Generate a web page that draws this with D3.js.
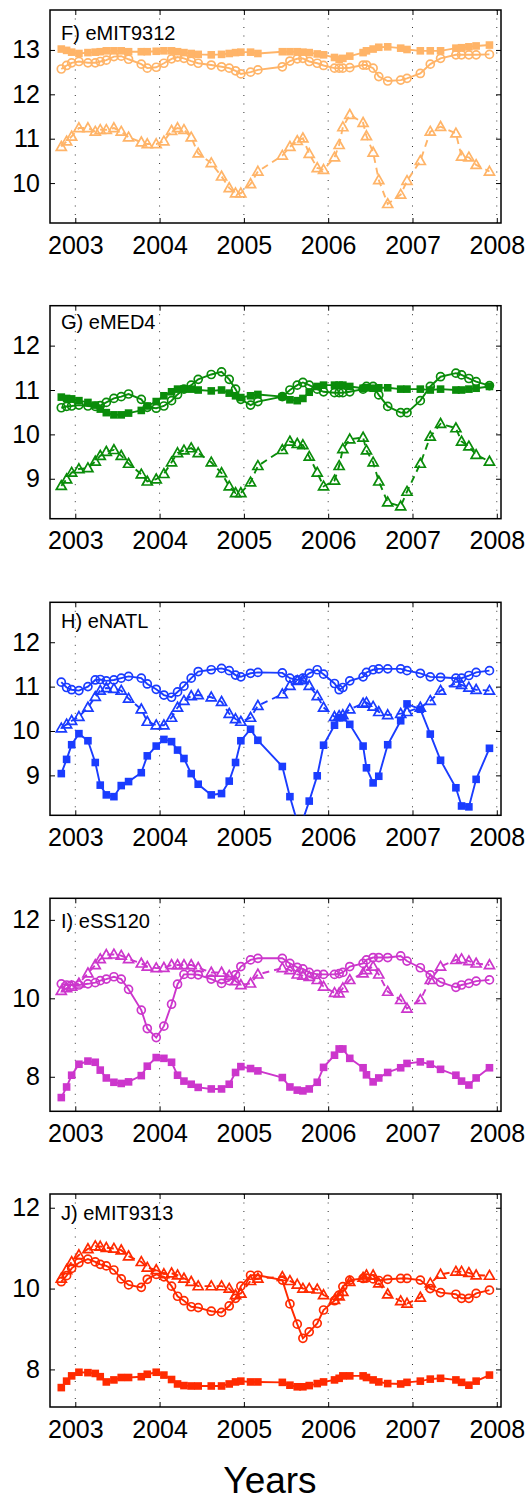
<!DOCTYPE html>
<html>
<head>
<meta charset="utf-8">
<script src="https://cdn.jsdelivr.net/npm/d3@7"></script>
<style>
  body { margin: 0; background: #fff; }
  svg { display: block; font-family: "Liberation Sans", Arial, Helvetica, sans-serif; }
</style>
</head>
<body>
<div class="chart"></div>
<script>
// sampling dates (decimal years), shared by every panel
const dates = [2002.834, 2002.897, 2002.957, 2003.043, 2003.150, 2003.237, 2003.296, 2003.368, 2003.458, 2003.545,
  2003.632, 2003.783, 2003.854, 2003.960, 2004.051, 2004.142, 2004.213, 2004.289, 2004.375, 2004.458,
  2004.613, 2004.735, 2004.826, 2004.901, 2004.964, 2005.079, 2005.166, 2005.456, 2005.546, 2005.633,
  2005.700, 2005.775, 2005.870, 2005.945, 2006.075, 2006.130, 2006.174, 2006.256, 2006.414, 2006.454,
  2006.533, 2006.600, 2006.706, 2006.860, 2006.935, 2007.093, 2007.211, 2007.333, 2007.515, 2007.582,
  2007.669, 2007.755, 2007.913];

const yearTicks = [2003, 2004, 2005, 2006, 2007, 2008];

// F) eMIT9312
const fSquares = [13.02, 12.99, 12.95, 12.92, 12.94, 12.95, 12.96, 12.98, 12.98, 12.98, 12.96, 12.96, 12.96, 12.97, 12.98, 12.98, 12.96, 12.94, 12.92, 12.90,
  12.89, 12.90, 12.92, 12.94, 12.95, 12.95, 12.92, 12.96, 12.96, 12.96, 12.95, 12.94, 12.91, 12.89, 12.83, 12.79, 12.81, 12.86, 12.94, 12.98,
  13.02, 13.06, 13.07, 13.04, 13.01, 12.98, 12.98, 12.98, 13.04, 13.05, 13.07, 13.09, 13.11];
const fCircles = [12.57, 12.65, 12.71, 12.74, 12.71, 12.71, 12.74, 12.77, 12.85, 12.86, 12.79, 12.68, 12.59, 12.61, 12.70, 12.80, 12.84, 12.81, 12.75, 12.70,
  12.66, 12.62, 12.59, 12.53, 12.46, 12.50, 12.55, 12.62, 12.75, 12.80, 12.81, 12.74, 12.70, 12.65, 12.59, 12.59, 12.59, 12.60, 12.66, 12.66,
  12.59, 12.40, 12.30, 12.32, 12.36, 12.47, 12.68, 12.81, 12.89, 12.89, 12.89, 12.89, 12.90];
const fTriangles = [10.82, 10.94, 11.05, 11.24, 11.24, 11.16, 11.20, 11.20, 11.24, 11.16, 11.03, 10.92, 10.88, 10.88, 10.94, 11.18, 11.24, 11.20, 11.03, 10.67,
  10.45, 10.15, 9.89, 9.77, 9.77, 9.98, 10.26, 10.62, 10.82, 10.95, 11.01, 10.66, 10.34, 10.30, 10.58, 10.86, 11.26, 11.54, 11.36, 11.06,
  10.69, 10.07, 9.53, 9.74, 10.05, 10.50, 11.16, 11.27, 11.12, 10.60, 10.58, 10.41, 10.26];

// G) eMED4
const gSquares = [10.84, 10.81, 10.80, 10.76, 10.72, 10.66, 10.57, 10.49, 10.44, 10.44, 10.48, 10.54, 10.64, 10.74, 10.87, 10.96, 11.02, 11.02, 11.02, 11.00,
  10.98, 11.00, 10.93, 10.87, 10.83, 10.87, 10.90, 10.85, 10.78, 10.76, 10.81, 10.95, 11.08, 11.11, 11.11, 11.11, 11.11, 11.08, 11.04, 11.05,
  11.04, 11.05, 11.05, 11.02, 11.02, 11.02, 11.00, 11.02, 11.00, 11.00, 11.02, 11.04, 11.08];
const gCircles = [10.60, 10.63, 10.64, 10.66, 10.64, 10.63, 10.65, 10.72, 10.81, 10.85, 10.91, 10.79, 10.61, 10.59, 10.64, 10.76, 10.90, 11.02, 11.11, 11.24,
  11.35, 11.41, 11.24, 11.02, 10.79, 10.66, 10.74, 10.85, 11.00, 11.11, 11.17, 11.11, 11.02, 10.96, 10.94, 10.94, 10.94, 10.96, 11.02, 11.08,
  11.08, 10.89, 10.63, 10.49, 10.49, 10.76, 11.08, 11.30, 11.38, 11.34, 11.26, 11.19, 11.10];
const gTriangles = [8.84, 8.99, 9.14, 9.22, 9.24, 9.39, 9.52, 9.61, 9.65, 9.52, 9.34, 9.10, 8.94, 8.99, 9.11, 9.37, 9.58, 9.64, 9.69, 9.58,
  9.37, 9.13, 8.83, 8.68, 8.68, 8.92, 9.29, 9.65, 9.84, 9.79, 9.76, 9.50, 9.14, 8.83, 8.96, 9.29, 9.67, 9.89, 9.93, 9.64,
  9.37, 8.94, 8.47, 8.38, 8.71, 9.34, 9.95, 10.24, 10.14, 9.84, 9.73, 9.54, 9.39];

// H) eNATL
const hSquares = [9.04, 9.36, 9.69, 9.94, 9.78, 9.29, 8.78, 8.56, 8.52, 8.77, 8.86, 9.06, 9.44, 9.66, 9.81, 9.76, 9.57, 9.38, 9.04, 8.80,
  8.56, 8.59, 8.87, 9.29, 9.78, 10.04, 9.79, 9.20, 8.52, 7.95, 8.00, 8.42, 8.99, 9.68, 10.13, 10.30, 10.30, 10.15, 9.66, 9.17,
  8.83, 8.98, 9.69, 10.23, 10.61, 10.49, 9.93, 9.34, 8.72, 8.31, 8.29, 8.91, 9.61];
const hCircles = [11.10, 10.98, 10.93, 10.91, 11.00, 11.15, 11.16, 11.13, 11.15, 11.19, 11.23, 11.19, 11.06, 10.94, 10.81, 10.76, 10.88, 11.01, 11.19, 11.34,
  11.38, 11.41, 11.36, 11.26, 11.22, 11.30, 11.32, 11.31, 11.19, 11.15, 11.19, 11.30, 11.38, 11.28, 11.07, 10.93, 10.98, 11.13, 11.22, 11.32,
  11.38, 11.40, 11.40, 11.40, 11.36, 11.30, 11.22, 11.21, 11.19, 11.19, 11.25, 11.32, 11.36];
const hTriangles = [10.06, 10.15, 10.23, 10.32, 10.53, 10.77, 10.91, 10.97, 10.95, 10.91, 10.73, 10.49, 10.21, 10.13, 10.13, 10.30, 10.53, 10.68, 10.79, 10.81,
  10.76, 10.66, 10.39, 10.27, 10.21, 10.30, 10.57, 10.83, 11.02, 11.13, 11.15, 11.02, 10.79, 10.53, 10.32, 10.34, 10.36, 10.49, 10.62, 10.64,
  10.55, 10.43, 10.36, 10.39, 10.43, 10.53, 10.68, 10.91, 11.08, 11.04, 10.98, 10.93, 10.91];

// I) eSS120
const iSquares = [7.47, 7.74, 8.04, 8.32, 8.40, 8.37, 8.17, 7.97, 7.86, 7.83, 7.87, 8.03, 8.27, 8.49, 8.47, 8.37, 8.04, 7.89, 7.81, 7.73,
  7.69, 7.69, 7.81, 8.11, 8.26, 8.21, 8.15, 7.98, 7.74, 7.66, 7.64, 7.69, 7.86, 8.24, 8.55, 8.71, 8.71, 8.47, 8.23, 8.05,
  7.87, 7.97, 8.11, 8.23, 8.34, 8.38, 8.32, 8.19, 8.04, 7.89, 7.79, 7.97, 8.23];
const iCircles = [10.37, 10.34, 10.34, 10.34, 10.37, 10.40, 10.45, 10.49, 10.55, 10.49, 10.23, 9.70, 9.23, 9.00, 9.29, 9.85, 10.36, 10.61, 10.61, 10.60,
  10.49, 10.38, 10.45, 10.60, 10.81, 10.98, 11.02, 11.02, 10.89, 10.79, 10.75, 10.66, 10.61, 10.61, 10.61, 10.63, 10.66, 10.81, 10.89, 10.98,
  11.04, 11.04, 11.04, 11.08, 10.95, 10.78, 10.60, 10.41, 10.28, 10.34, 10.38, 10.44, 10.47];
const iTriangles = [10.19, 10.26, 10.30, 10.38, 10.64, 10.85, 11.00, 11.11, 11.12, 11.09, 11.00, 10.89, 10.81, 10.77, 10.78, 10.85, 10.85, 10.85, 10.85, 10.78,
  10.66, 10.66, 10.58, 10.44, 10.34, 10.38, 10.61, 10.77, 10.72, 10.61, 10.58, 10.55, 10.47, 10.30, 10.14, 10.13, 10.26, 10.47, 10.64, 10.72,
  10.81, 10.61, 10.17, 9.96, 9.74, 9.96, 10.47, 10.81, 10.98, 11.00, 10.95, 10.89, 10.85];

// J) eMIT9313
const jSquares = [7.55, 7.71, 7.84, 7.93, 7.92, 7.90, 7.82, 7.69, 7.74, 7.80, 7.80, 7.82, 7.88, 7.93, 7.86, 7.75, 7.64, 7.60, 7.59, 7.59,
  7.59, 7.59, 7.64, 7.69, 7.71, 7.69, 7.69, 7.68, 7.61, 7.57, 7.57, 7.60, 7.65, 7.69, 7.74, 7.78, 7.84, 7.84, 7.84, 7.80,
  7.74, 7.69, 7.65, 7.64, 7.68, 7.71, 7.76, 7.78, 7.74, 7.68, 7.61, 7.71, 7.86];
const jCircles = [10.17, 10.32, 10.50, 10.64, 10.73, 10.66, 10.60, 10.56, 10.46, 10.24, 10.09, 10.03, 10.23, 10.35, 10.29, 10.06, 9.81, 9.70, 9.55, 9.53,
  9.44, 9.41, 9.57, 9.76, 10.06, 10.33, 10.33, 10.21, 9.62, 9.12, 8.77, 8.93, 9.14, 9.47, 9.70, 9.84, 10.05, 10.21, 10.25, 10.26,
  10.24, 10.20, 10.23, 10.25, 10.25, 10.21, 10.00, 9.90, 9.86, 9.76, 9.76, 9.88, 9.96];
const jTriangles = [10.25, 10.46, 10.66, 10.83, 10.98, 11.05, 11.04, 11.01, 10.99, 10.95, 10.80, 10.66, 10.52, 10.46, 10.36, 10.38, 10.33, 10.25, 10.17, 10.06,
  10.06, 10.06, 10.00, 9.84, 9.88, 10.19, 10.25, 10.29, 10.19, 10.10, 10.00, 10.00, 9.98, 9.84, 9.72, 9.81, 9.92, 10.17, 10.27, 10.33,
  10.33, 10.13, 9.86, 9.69, 9.63, 9.78, 10.13, 10.35, 10.42, 10.42, 10.39, 10.33, 10.32];

const titles = ["F) eMIT9312", "G) eMED4", "H) eNATL", "I) eSS120", "J) eMIT9313"];
const yTickSets = [[10, 11, 12, 13], [9, 10, 11, 12], [9, 10, 11, 12], [8, 10, 12], [8, 10, 12]];
const yDomains = [[9.1, 13.9], [8.1, 12.9], [8.1, 12.9], [7.12, 12.55], [7.07, 12.34]];
const seriesSets = [
  [fSquares, fCircles, fTriangles],
  [gSquares, gCircles, gTriangles],
  [hSquares, hCircles, hTriangles],
  [iSquares, iCircles, iTriangles],
  [jSquares, jCircles, jTriangles]
];

// layout / style
const colors = ["#ffb468", "#0a8c0a", "#1a3cff", "#cc36cc", "#ff2a00"];
const tops = [10, 305.7, 602.3, 898.3, 1194];
const titleDy = [30, 23.6, 25.7, 30, 26];
const W = 530, H = 1501;
const left = 50, right = 501, ph = 213;

const svg = d3.select('.chart').append('svg')
  .attr('width', W)
  .attr('height', H);

const x = d3.scaleLinear().domain([2002.70, 2008.05]).range([left, right]);

const triPath = "M0,-5.2L5,3.6L-5,3.6Z";

titles.forEach((title, p) => {
  let top = tops[p];
  let y = d3.scaleLinear().domain(yDomains[p]).range([top + ph, top]);
  let col = colors[p];
  let g = svg.append('g');

  // clip to the axes box
  g.append('clipPath').attr('id', 'clip' + p)
    .append('rect')
    .attr('x', left).attr('y', top)
    .attr('width', right - left).attr('height', ph);

  // dotted vertical grid
  g.selectAll('.grid').data(yearTicks).enter()
    .append('line')
    .attr('x1', d => x(d)).attr('x2', d => x(d))
    .attr('y1', top).attr('y2', top + ph)
    .attr('stroke', '#333')
    .attr('stroke-width', 1)
    .attr('stroke-dasharray', '1,7.5');

  // axes
  let xb = g.append('g')
    .attr('transform', `translate(0,${top + ph})`)
    .call(d3.axisBottom(x).tickValues(yearTicks).tickFormat(d3.format('d')).tickSize(-5).tickPadding(13));
  let xt = g.append('g')
    .attr('transform', `translate(0,${top})`)
    .call(d3.axisTop(x).tickValues(yearTicks).tickFormat('').tickSize(-5));
  let yl = g.append('g')
    .attr('transform', `translate(${left},0)`)
    .call(d3.axisLeft(y).tickValues(yTickSets[p]).tickFormat(d3.format('d')).tickSize(-5).tickPadding(10));
  let yr = g.append('g')
    .attr('transform', `translate(${right},0)`)
    .call(d3.axisRight(y).tickValues(yTickSets[p]).tickFormat('').tickSize(-5));

  [xb, xt, yl, yr].forEach(a => {
    a.select('.domain').remove();
    a.selectAll('line').attr('stroke', '#000').attr('stroke-width', 1);
    a.selectAll('text').attr('fill', '#000').style('font-size', '25px')
      .style('font-family', '"Liberation Sans", Arial, Helvetica, sans-serif');
  });

  // box
  g.append('rect')
    .attr('x', left).attr('y', top)
    .attr('width', right - left).attr('height', ph)
    .attr('fill', 'none')
    .attr('stroke', '#000')
    .attr('stroke-width', 1.5);

  let plot = g.append('g').attr('clip-path', `url(#clip${p})`);
  let [sq, ci, tr] = seriesSets[p];

  let line = vals => d3.line()
    .defined((d, i) => vals[i] != null)
    .x((d, i) => x(dates[i]))
    .y((d, i) => y(vals[i]))(vals);

  // lines
  plot.append('path').attr('d', line(tr))
    .attr('fill', 'none').attr('stroke', col).attr('stroke-width', 1.9)
    .attr('stroke-dasharray', '7,5');
  plot.append('path').attr('d', line(ci))
    .attr('fill', 'none').attr('stroke', col).attr('stroke-width', 1.9);
  plot.append('path').attr('d', line(sq))
    .attr('fill', 'none').attr('stroke', col).attr('stroke-width', 1.9);

  // markers
  plot.selectAll('.tri').data(tr).enter()
    .append('path')
    .attr('d', triPath)
    .attr('transform', (d, i) => `translate(${x(dates[i])},${y(d)})`)
    .attr('fill', 'none').attr('stroke', col).attr('stroke-width', 1.7);
  plot.selectAll('.circ').data(ci).enter()
    .append('circle')
    .attr('cx', (d, i) => x(dates[i]))
    .attr('cy', d => y(d))
    .attr('r', 4)
    .attr('fill', 'none').attr('stroke', col).attr('stroke-width', 1.7);
  plot.selectAll('.sq').data(sq).enter()
    .append('rect')
    .attr('x', (d, i) => x(dates[i]) - 3.8)
    .attr('y', d => y(d) - 3.8)
    .attr('width', 7.6).attr('height', 7.6)
    .attr('fill', col);

  // panel title
  g.append('text')
    .attr('x', 61)
    .attr('y', top + titleDy[p])
    .attr('fill', '#000')
    .style('font-size', '20px')
    .text(title);
});

svg.append('text')
  .attr('x', 270)
  .attr('y', 1493)
  .attr('text-anchor', 'middle')
  .attr('fill', '#000')
  .style('font-size', '37px')
  .text('Years');
</script>
</body>
</html>
